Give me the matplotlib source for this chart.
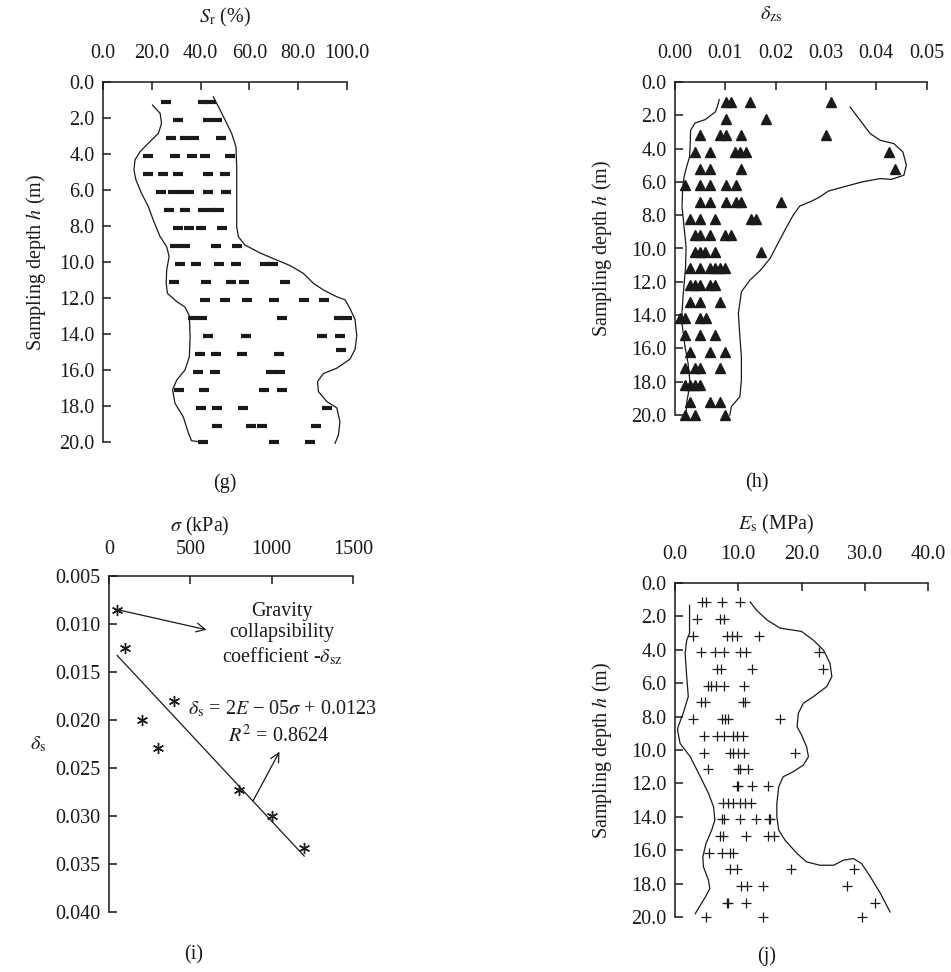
import matplotlib
matplotlib.use("Agg")
import matplotlib.pyplot as plt
import numpy as np

plt.rcParams['font.family'] = 'Liberation Serif'
plt.rcParams['mathtext.fontset'] = 'stix'
plt.rcParams['font.size'] = 14.5

# ---- (g) degree of saturation Sr vs depth ----
sr_depth = [1.1, 2.1, 3.1, 4.1, 5.1, 6.1, 7.1, 8.1, 9.1, 10.1,
            11.1, 12.1, 13.1, 14.1, 14.9, 15.1, 16.1, 17.1, 18.1, 19.1, 20.0]
sr_vals = [
    [25.8, 41.1, 44.3],
    [30.6, 43.2, 46.6],
    [27.8, 33.6, 37.4, 48.4],
    [18.3, 29.6, 36.3, 41.8, 52.0],
    [18.4, 24.7, 30.9, 43.2, 50.1],
    [23.6, 28.6, 31.8, 35.2, 43.2, 50.3],
    [27.2, 33.6, 41.1, 44.5, 47.7],
    [30.9, 35.4, 40.2, 48.8],
    [29.5, 33.7, 46.3, 54.8],
    [31.5, 38.3, 47.5, 54.4, 66.4, 69.5],
    [28.9, 42.1, 52.5, 57.8, 74.6],
    [41.7, 49.8, 59.1, 70.1, 82.5, 90.7],
    [36.9, 40.6, 73.2, 96.9, 99.9],
    [42.9, 58.5, 89.6, 97.1],
    [97.5],
    [39.6, 46.4, 56.8, 72.3],
    [39.1, 45.9, 68.9, 72.5],
    [31.0, 41.3, 66.1, 73.2],
    [40.3, 46.8, 57.5, 91.7],
    [46.6, 60.7, 65.0, 87.2],
    [41.1, 70.1, 84.8],
]
sr_left_x = [20.3, 23.4, 24.0, 22.7, 18.6, 15.2, 13.1, 12.7, 13.5, 15.8, 18.6, 20.6,
             23.4, 26.1, 27.1, 26.1, 25.9, 26.4, 30.2, 33.6, 35.4, 35.7, 35.4, 33.6,
             30.2, 28.5, 29.5, 32.9, 35.0, 36.3, 39.1]
sr_left_h = [1.28, 1.74, 2.3, 2.85, 3.4, 3.87, 4.33, 4.89, 5.44, 6.19, 6.93, 7.67,
             8.59, 9.15, 9.7, 10.44, 11.18, 11.74, 12.2, 12.5, 13.0, 14.15, 15.26, 16.0,
             16.56, 17.1, 17.85, 18.6, 19.5, 19.93, 19.98]
sr_right_x = [45.2, 47.3, 50.0, 52.7, 54.5, 54.8, 54.8, 54.8, 55.5, 58.2, 64.4, 71.2,
              76.7, 82.1, 86.2, 90.3, 95.8, 99.2, 101.2, 103.3, 104.0, 103.3, 101.2, 95.8,
              90.3, 87.9, 88.3, 91.7, 95.8, 97.1, 96.5, 95.1]
sr_right_h = [0.82, 1.37, 2.1, 2.85, 3.6, 4.7, 6.37, 8.04, 8.6, 9.06, 9.5, 9.89,
              10.2, 10.63, 11.18, 11.55, 11.93, 12.1, 12.57, 13.2, 14.1, 14.85, 15.4, 15.9,
              16.2, 16.65, 17.2, 17.75, 18.1, 18.87, 19.6, 20.07]

# ---- (h) self-weight collapse coefficient vs depth ----
dzs_depth = [1.2, 2.2, 3.2, 4.2, 5.2, 6.2, 7.2, 8.2, 9.2, 10.2,
             11.2, 12.2, 13.2, 14.2, 15.2, 16.2, 17.2, 18.2, 19.2, 20.0]
dzs_vals = [
    [0.0101, 0.0111, 0.0150, 0.0311],
    [0.0101, 0.0180],
    [0.0050, 0.0089, 0.0101, 0.0131, 0.0301],
    [0.0040, 0.0070, 0.0120, 0.0130, 0.0141, 0.0425],
    [0.0050, 0.0070, 0.0131, 0.0438],
    [0.0020, 0.0050, 0.0070, 0.0101, 0.0121],
    [0.0050, 0.0070, 0.0101, 0.0121, 0.0131, 0.0211],
    [0.0030, 0.0050, 0.0080, 0.0151, 0.0161],
    [0.0040, 0.0050, 0.0070, 0.0100, 0.0111],
    [0.0040, 0.0050, 0.0060, 0.0080, 0.0170],
    [0.0030, 0.0050, 0.0070, 0.0080, 0.0090, 0.0100],
    [0.0030, 0.0040, 0.0050, 0.0070, 0.0080],
    [0.0030, 0.0050, 0.0090],
    [0.0010, 0.0020, 0.0050, 0.0061],
    [0.0020, 0.0050, 0.0080],
    [0.0030, 0.0070, 0.0099],
    [0.0020, 0.0040, 0.0050, 0.0090],
    [0.0020, 0.0030, 0.0040, 0.0050],
    [0.0030, 0.0070, 0.0090],
    [0.0020, 0.0040, 0.0099],
]
dzs_left_x = [0.0088, 0.0084, 0.0080, 0.0060, 0.0040, 0.0031, 0.0030, 0.0029, 0.0023,
              0.0018, 0.0015, 0.0014, 0.0017, 0.0022, 0.0021, 0.0016, 0.0013, 0.0020,
              0.0026, 0.0030, 0.0023, 0.0022]
dzs_left_h = [1.06, 1.5, 1.8, 2.26, 2.46, 2.9, 3.9, 4.5, 5.1,
              5.7, 6.5, 7.5, 8.4, 9.9, 11.1, 12.9, 14.3, 15.9,
              16.9, 18.1, 19.3, 20.1]
dzs_right_x = [0.0348, 0.0368, 0.0388, 0.0408, 0.0435, 0.0453, 0.0460, 0.0455, 0.0430,
               0.0408, 0.0372, 0.0335, 0.0305, 0.0288, 0.0272, 0.0248, 0.0235, 0.0222,
               0.0208, 0.0189, 0.0170, 0.0149, 0.0132, 0.0126, 0.0129, 0.0132, 0.0132,
               0.0129, 0.0112, 0.0109]
dzs_right_h = [1.5, 2.3, 3.1, 3.5, 3.7, 4.2, 5.0, 5.6, 5.85,
               5.8, 6.0, 6.3, 6.55, 6.9, 7.15, 7.45, 8.0, 8.7,
               9.5, 10.6, 11.3, 11.9, 12.6, 13.9, 15.3, 16.5, 17.9,
               18.9, 19.5, 20.0]

# ---- (i) collapse coefficient vs pressure ----
sigma = [50, 100, 200, 300, 400, 800, 1000, 1200]
delta_s = [0.0085, 0.0125, 0.0200, 0.0229, 0.0180, 0.0273, 0.0300, 0.0333]

# ---- (j) compression modulus Es vs depth ----
es_depth = [1.15, 2.15, 3.15, 4.15, 5.15, 6.15, 7.15, 8.15, 9.15, 10.15,
            11.15, 12.15, 13.15, 14.15, 15.15, 16.15, 17.15, 18.15, 19.15, 20.0]
es_vals = [
    [4.2, 4.9, 7.4, 10.3],
    [3.5, 7.1, 7.8],
    [2.9, 8.2, 9.0, 9.8, 13.3],
    [4.1, 6.4, 7.7, 10.2, 11.3, 22.7],
    [6.7, 7.2, 12.2, 23.4],
    [5.2, 5.7, 6.5, 7.8, 10.9],
    [4.1, 4.8, 10.7, 11.0],
    [2.8, 7.4, 7.9, 8.4, 16.6],
    [4.6, 6.6, 7.8, 9.1, 9.8, 10.7],
    [4.6, 8.7, 9.2, 10.0, 10.9, 19.0],
    [5.2, 9.9, 10.2, 11.6],
    [9.8, 10.0, 12.1, 14.7],
    [7.6, 8.4, 9.1, 10.3, 11.0, 12.0],
    [7.5, 7.7, 10.3, 12.8, 14.8, 15.0],
    [7.1, 7.6, 11.2, 14.7, 15.7],
    [5.3, 7.4, 8.7, 9.1],
    [8.7, 9.8, 18.4, 28.3],
    [10.5, 11.4, 13.9, 27.2],
    [8.2, 8.4, 11.2, 31.6],
    [4.9, 13.9, 29.5],
]
es_left_x = [2.3, 2.3, 1.85, 1.6, 1.85, 2.1, 1.3, 0.5, 0.4, 0.8, 2.4, 4.0, 5.3, 6.1,
             6.3, 5.8, 4.9, 4.4, 4.5, 5.3, 5.5, 4.8, 3.2]
es_left_h = [1.34, 3.0, 3.43, 4.2, 5.6, 6.8, 7.8, 8.6, 8.8, 9.6, 10.4, 11.6, 12.6, 13.4,
             14.2, 14.8, 15.6, 16.4, 17.0, 17.8, 18.3, 18.8, 19.8]
es_right_x = [11.9, 12.9, 14.5, 16.6, 20.0, 21.9, 23.5, 24.5, 24.8, 24.0, 21.9, 20.3,
              19.5, 19.3, 20.0, 20.8, 21.1, 20.3, 18.7, 17.1, 16.4, 16.1, 16.1, 16.4,
              17.4, 19.3, 20.8, 22.9, 25.1, 26.6, 28.2, 29.5, 30.9, 32.5, 34.0]
es_right_h = [1.14, 1.63, 2.2, 2.7, 2.9, 3.43, 4.03, 4.8, 5.6, 6.2, 6.8, 7.2,
              7.8, 8.6, 9.1, 9.8, 10.4, 10.9, 11.3, 11.6, 12.2, 13.2, 14.0, 14.8,
              15.4, 16.2, 16.7, 16.9, 16.9, 16.6, 16.5, 16.8, 17.6, 18.6, 19.7]

W, H = 951, 972
fig = plt.figure(figsize=(W / 100, H / 100), dpi=100)
INK = '#1a1a1a'


def px_axes(l, r, t, b):
    return fig.add_axes([l / W, 1 - b / H, (r - l) / W, (b - t) / H])


def style(ax, xpad=14):
    for s in ('right', 'bottom'):
        ax.spines[s].set_visible(False)
    for s in ('left', 'top'):
        ax.spines[s].set_linewidth(1.1)
        ax.spines[s].set_color(INK)
    ax.xaxis.tick_top()
    ax.tick_params(axis='both', direction='in', length=6, width=1.1, colors=INK,
                   labelcolor=INK)
    ax.tick_params(axis='x', pad=xpad)
    ax.tick_params(axis='y', pad=6)


def fig_text(x, y, s, **kw):
    fig.text(x / W, 1 - y / H, s, ha='center', va='center', color=INK, **kw)


def rows(depths, vals):
    xs, ys = [], []
    for d, row in zip(depths, vals):
        xs += row
        ys += [d] * len(row)
    return xs, ys


depth_ticks = np.arange(0, 21, 2)

# (g)
ax = px_axes(103, 347, 82, 442)
style(ax)
x, y = rows(sr_depth, sr_vals)
ax.plot(x, y, ls='none', marker='_', ms=7.2, mew=3.0, color=INK, clip_on=False)
ax.plot(sr_left_x, sr_left_h, color=INK, lw=0.9, clip_on=False)
ax.plot(sr_right_x, sr_right_h, color=INK, lw=0.9, clip_on=False)
ax.set_xlim(0, 100)
ax.set_ylim(20, 0)
ax.set_xticks(np.arange(0, 101, 20))
ax.set_xticklabels(['%.1f' % v for v in np.arange(0, 101, 20)])
ax.set_yticks(depth_ticks)
ax.set_yticklabels(['%.1f' % v for v in depth_ticks])

# (h)
ax = px_axes(675, 926.5, 82, 415)
style(ax)
x, y = rows(dzs_depth, dzs_vals)
ax.plot(x, y, ls='none', marker='^', ms=7.8, color=INK, mec=INK, clip_on=False)
ax.plot(dzs_left_x, dzs_left_h, color=INK, lw=0.9, clip_on=False)
ax.plot(dzs_right_x, dzs_right_h, color=INK, lw=0.9, clip_on=False)
ax.set_xlim(0, 0.05)
ax.set_ylim(20, 0)
hx = np.arange(0, 0.051, 0.01)
ax.set_xticks(hx)
ax.set_xticklabels(['%.2f' % v for v in hx])
ax.set_yticks(depth_ticks)
ax.set_yticklabels(['%.1f' % v for v in depth_ticks])

# (i)
ax = px_axes(109, 353, 576, 912)
style(ax, xpad=12)
ax.plot(sigma, delta_s, ls='none', marker=(6, 2, 0), ms=8, mew=1.0, color=INK,
        clip_on=False)
slope, icpt = np.polyfit(sigma, delta_s, 1)
xf = np.array([sigma[0], sigma[-1]])
ax.plot(xf, slope * xf + icpt, color=INK, lw=0.9)
ax.set_xlim(0, 1500)
ax.set_ylim(0.040, 0.005)
ax.set_xticks([0, 500, 1000, 1500])
iy = np.arange(0.005, 0.0401, 0.005)
ax.set_yticks(iy)
ax.set_yticklabels(['%.3f' % v for v in iy])
arrow = dict(arrowstyle='->', color=INK, lw=0.9, shrinkA=0, shrinkB=0,
             mutation_scale=16)
ax.annotate('', xy=(600, 0.0106), xytext=(sigma[0], delta_s[0]), arrowprops=arrow)
ax.text(1064, 0.0111, 'Gravity\ncollapsibility\ncoefficient -$\\delta_{\\mathrm{sz}}$',
        ha='center', va='center', multialignment='center', color=INK,
        linespacing=1.2)
ax.text(1068, 0.0189, '$\\delta_{\\mathrm{s}}$ = 2$E$ \u2212 05$\\sigma$ + 0.0123',
        ha='center', va='center', color=INK, clip_on=False)
ax.text(1041, 0.0217, '$R^2$ = 0.8624', ha='center', va='center', color=INK)
ax.annotate('', xy=(1048, 0.0233), xytext=(885, slope * 885 + icpt), arrowprops=arrow)

# (j)
ax = px_axes(675, 928, 583, 917)
style(ax)
x, y = rows(es_depth, es_vals)
ax.plot(x, y, ls='none', marker='+', ms=7, mew=0.9, color=INK, clip_on=False)
ax.plot(es_left_x, es_left_h, color=INK, lw=0.9, clip_on=False)
ax.plot(es_right_x, es_right_h, color=INK, lw=0.9, clip_on=False)
ax.set_xlim(0, 40)
ax.set_ylim(20, 0)
jx = np.arange(0, 41, 10)
ax.set_xticks(jx)
ax.set_xticklabels(['%.1f' % v for v in jx])
ax.set_yticks(depth_ticks)
ax.set_yticklabels(['%.1f' % v for v in depth_ticks])

# axis titles and panel letters
fig_text(225, 17, '$S_{\\mathrm{r}}$ (%)')
fig_text(771, 14, '$\\delta_{\\mathrm{zs}}$')
fig_text(200, 526, '$\\sigma$ (kPa)')
fig_text(776, 524, '$E_{\\mathrm{s}}$ (MPa)')
fig_text(36, 262, 'Sampling depth $h$ (m)', rotation=90)
fig_text(602, 248, 'Sampling depth $h$ (m)', rotation=90)
fig_text(602, 750, 'Sampling depth $h$ (m)', rotation=90)
fig_text(38, 744, '$\\delta_{\\mathrm{s}}$')
fig_text(225, 483, '(g)')
fig_text(757, 483, '(h)')
fig_text(194, 955, '(i)')
fig_text(767, 956, '(j)')

fig.savefig('out.png', dpi=100)
